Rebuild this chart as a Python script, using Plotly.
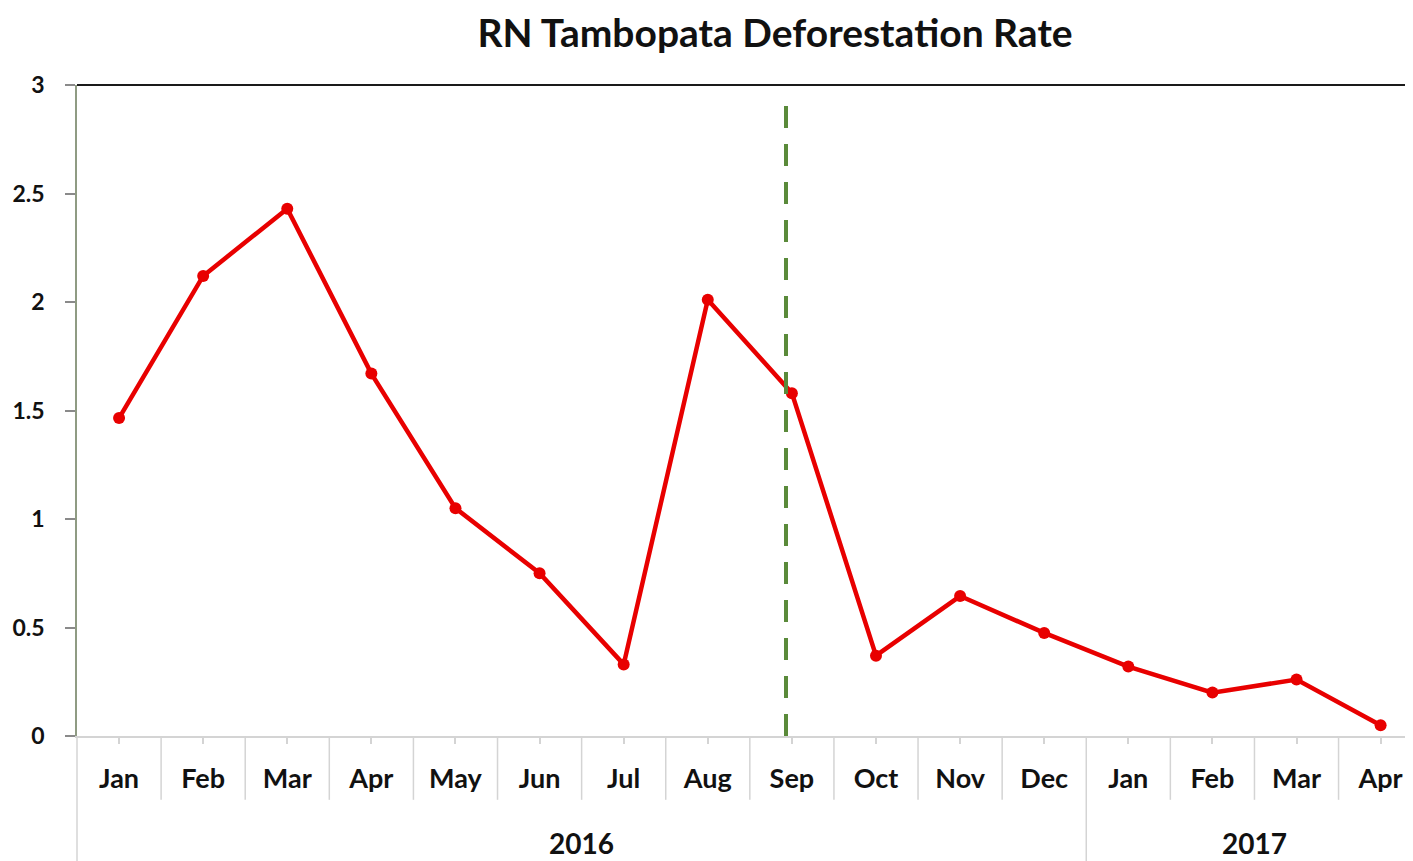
import plotly.graph_objects as go

months = ["Jan", "Feb", "Mar", "Apr", "May", "Jun", "Jul", "Aug", "Sep", "Oct", "Nov", "Dec",
          "Jan", "Feb", "Mar", "Apr"]
years = ["2016", "2017"]
year_counts = [12, 4]
rate = [1.465, 2.12, 2.43, 1.67, 1.05, 0.75, 0.33, 2.01, 1.58, 0.37, 0.645, 0.475,
        0.32, 0.20, 0.26, 0.05]
y_ticks = [0, 0.5, 1, 1.5, 2, 2.5, 3]
y_ticktext = ["0", "0.5", "1", "1.5", "2", "2.5", "3"]
marker_x = 7.93  # dashed reference line position (category index)

FONT = "Lato"
xs = list(range(len(months)))
XMIN, XMAX = -0.5, 15.385

# page body has an 8px margin; compensate so the chart fills the 1413x861 window
OFF = 8
W, H = 1413 - OFF, 861 - OFF


def px(v):
    return (v - XMIN) / (XMAX - XMIN)


fig = go.Figure()
fig.add_trace(go.Scatter(
    x=xs, y=rate, mode="lines+markers",
    line=dict(color="#e80000", width=4.5),
    marker=dict(color="#e80000", size=12),
    hoverinfo="skip", showlegend=False,
))

shapes = []
# dashed green reference line
shapes.append(dict(type="line", xref="x", yref="paper", x0=marker_x, x1=marker_x,
                   y0=0, y1=0.97, line=dict(color="#5a8a3a", width=4, dash="22px,16px")))
# top border line
shapes.append(dict(type="line", xref="paper", yref="paper", x0=0, x1=1, y0=1, y1=1,
                   line=dict(color="#1a1a1a", width=2)))
# month separators and year dividers
year_bounds = []
start = 0
for c in year_counts:
    year_bounds.append(start - 0.5)
    start += c
for i in range(len(months)):
    b = i - 0.5
    depth = -0.2 if b in year_bounds else -0.098
    shapes.append(dict(type="line", xref="paper", yref="paper", x0=px(b), x1=px(b),
                       y0=0, y1=depth, line=dict(color="#d4d4d4", width=1.5)))

annotations = []
start = 0
for yr, c in zip(years, year_counts):
    center = start + (c - 1) / 2
    annotations.append(dict(x=center, y=-0.164, xref="x", yref="paper", text=yr,
                            showarrow=False, xanchor="center", yanchor="middle",
                            font=dict(family=FONT, size=28, color="#111111", weight="bold")))
    start += c

fig.update_layout(
    width=W, height=H,
    margin=dict(l=77 - OFF, r=0, t=85 - OFF, b=H - (85 - OFF) - 651),
    paper_bgcolor="white", plot_bgcolor="white",
    title=dict(text="RN Tambopata Deforestation Rate", x=(775 - OFF) / W, xanchor="center",
               y=1 - (33 - OFF) / H, yanchor="middle",
               font=dict(family=FONT, size=39, color="#111111", weight="bold")),
    shapes=shapes, annotations=annotations,
    xaxis=dict(range=[XMIN, XMAX], tickvals=xs, ticktext=months, showgrid=False,
               zeroline=False, showline=True, linecolor="#d4d4d4", linewidth=1.5,
               ticks="outside", ticklen=6, tickcolor="#d4d4d4", tickwidth=1.5,
               ticklabelstandoff=12,
               tickfont=dict(family=FONT, size=27, color="#111111", weight="bold")),
    yaxis=dict(range=[0, 3], tickvals=y_ticks, ticktext=y_ticktext, showgrid=False,
               zeroline=False, showline=True, linecolor="#8f9b83", linewidth=1.5,
               ticks="outside", ticklen=10, tickcolor="#8a8a8a", tickwidth=1.5,
               ticklabelstandoff=16,
               tickfont=dict(family=FONT, size=23, color="#111111", weight="bold")),
)

fig.write_html("out.html")
